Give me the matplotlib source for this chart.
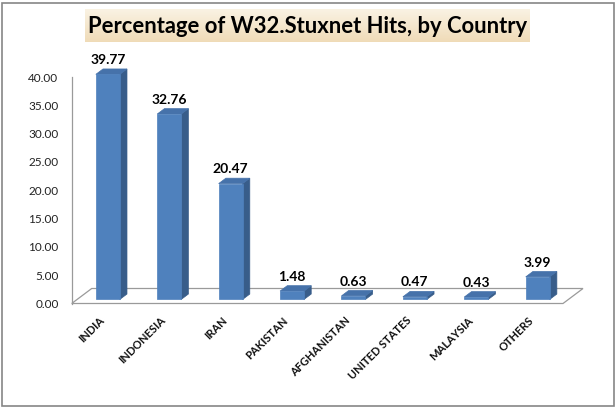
import matplotlib
matplotlib.use("Agg")
import matplotlib.pyplot as plt
from matplotlib.patches import Polygon, Rectangle
import numpy as np

plt.rcParams['font.family'] = ['Lato', 'DejaVu Sans']

title = "Percentage of W32.Stuxnet Hits, by Country"
countries = ["INDIA", "INDONESIA", "IRAN", "PAKISTAN", "AFGHANISTAN",
             "UNITED STATES", "MALAYSIA", "OTHERS"]
hits = [39.77, 32.76, 20.47, 1.48, 0.63, 0.47, 0.43, 3.99]
yticks = [0, 5, 10, 15, 20, 25, 30, 35, 40]

W, H = 616, 408
fig = plt.figure(figsize=(W / 100, H / 100), dpi=100)
fig.patch.set_facecolor("white")

# outer border
fig.patches.append(Rectangle((2 / W, 2 / H), 611.5 / W, 403.5 / H, transform=fig.transFigure,
                             fill=False, edgecolor="#868686", linewidth=1.2))

# title box with beige gradient
tax = fig.add_axes([85 / W, 1 - 42 / H, 445 / W, 32.5 / H])
grad = np.linspace(0, 1, 50).reshape(-1, 1)
top_c = np.array([0.98, 0.95, 0.89])
bot_c = np.array([0.94, 0.86, 0.72])
img = top_c + (bot_c - top_c) * grad[:, :, None]
tax.imshow(img, aspect="auto", extent=[0, 1, 0, 1])
tax.set_axis_off()
tax.text(0.5, 0.47, title, ha="center", va="center", fontsize=15.8,
         fontweight="bold", color="black", transform=tax.transAxes)

# main axes: front plane of 3D box
x0, x1 = 71.7, 563.0
y0 = 303.5
px_per_unit = 5.66
ax = fig.add_axes([x0 / W, (H - y0) / H, (x1 - x0) / W, 40 * px_per_unit / H])
ax.set_xlim(-0.5, 7.5)
ax.set_ylim(0, 40)
ax.patch.set_alpha(0)

cat_px = (x1 - x0) / 8.0
floor_dx = 20.0 / cat_px          # depth offset in category units
floor_dy = 15.0 / px_per_unit     # depth offset in value units

# floor
floor = Polygon([(-0.5, 0), (7.5, 0), (7.5 + floor_dx, floor_dy), (-0.5 + floor_dx, floor_dy)],
                closed=True, facecolor="white", edgecolor="#9a9a9a", linewidth=0.9,
                clip_on=False, zorder=1)
ax.add_patch(floor)

# bars
f0 = 0.27
depth = 0.36
bw = 0.39
xs = np.arange(len(hits)) + f0 * floor_dx
base = f0 * floor_dy
ddx = depth * floor_dx
ddy = depth * floor_dy
front = "#4F81BD"
side = "#385D8A"
topc = "#4672AA"

for xc, v in zip(xs, hits):
    xl, xr = xc - bw / 2, xc + bw / 2
    t = base + v
    ax.add_patch(Polygon([(xr, base), (xr + ddx, base + ddy), (xr + ddx, t + ddy), (xr, t)],
                         closed=True, facecolor=side, edgecolor=side, linewidth=0.5,
                         clip_on=False, zorder=3))
    ax.add_patch(Polygon([(xl, t), (xr, t), (xr + ddx, t + ddy), (xl + ddx, t + ddy)],
                         closed=True, facecolor=topc, edgecolor=topc, linewidth=0.5,
                         clip_on=False, zorder=3))
ax.bar(xs, hits, width=bw, bottom=base, color=front, edgecolor=front, linewidth=0.5,
       zorder=4, clip_on=False)

for xc, v in zip(xs, hits):
    ax.annotate("%.2f" % v, (xc, base + v), xytext=(0, 6), textcoords="offset points",
                ha="center", va="bottom", fontsize=10, fontweight="bold", color="black",
                annotation_clip=False)

# axes styling
for s in ["top", "right", "bottom"]:
    ax.spines[s].set_visible(False)
ax.spines["left"].set_color("#9a9a9a")
ax.spines["left"].set_linewidth(0.9)
ax.spines["left"].set_bounds(0, 40)

ax.set_yticks(yticks)
ax.set_yticklabels(["%.2f" % t for t in yticks])
ax.tick_params(axis="y", length=0, pad=9.5, labelsize=8.5, labelcolor="#222222")
ax.set_xticks(range(len(countries)))
ax.set_xticklabels(countries, rotation=45, ha="right", va="center", rotation_mode="anchor",
                   fontsize=8, fontweight="bold")
ax.tick_params(axis="x", length=0, pad=11, labelcolor="#111111")

fig.savefig("out.png", dpi=100, facecolor="white")
